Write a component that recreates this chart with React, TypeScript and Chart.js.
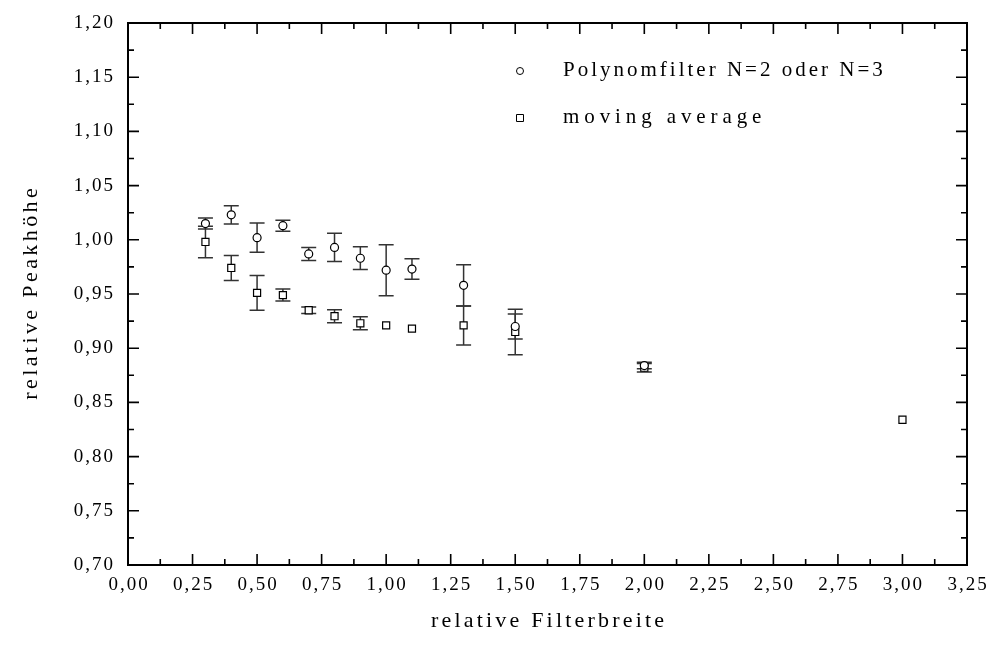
import React, { useEffect, useRef } from "react";
import { Chart, registerables } from "chart.js";

Chart.register(...registerables);

// Polynomial smoothing filter (N=2 or N=3)
const polyWidths = [0.3, 0.4, 0.5, 0.6, 0.7, 0.8, 0.9, 1.0, 1.1, 1.3, 1.5, 2.0];
const polyPeak = [1.015, 1.023, 1.002, 1.013, 0.987, 0.993, 0.983, 0.972, 0.973, 0.958, 0.92, 0.884];
const polyErr = [0.005, 0.0085, 0.0135, 0.005, 0.006, 0.013, 0.0105, 0.0235, 0.0095, 0.019, 0.0115, 0.003];

// Moving average filter
const maWidths = [0.3, 0.4, 0.5, 0.6, 0.7, 0.8, 0.9, 1.0, 1.1, 1.3, 1.5, 2.0, 3.0];
const maPeak = [0.998, 0.974, 0.951, 0.949, 0.935, 0.9295, 0.923, 0.921, 0.918, 0.921, 0.915, 0.882, 0.834];
const maErr = [0.0145, 0.0115, 0.016, 0.0055, 0.003, 0.006, 0.006, 0, 0, 0.018, 0.021, 0.004, 0];

const seriesLabels = ["Polynomfilter N=2 oder N=3", "moving average"];
const seriesShapes = ["circle", "rect"];
const xTitle = "relative Filterbreite";
const yTitle = "relative Peakhöhe";
const xRange = [0, 3.25];
const yRange = [0.7, 1.2];
const xStep = 0.25;
const yStep = 0.05;

const FONT = '"Liberation Serif", "Times New Roman", serif';
const fmt = (v: number) => v.toFixed(2).replace(".", ",");

const errorBars = {
  id: "errorBars",
  beforeDatasetsDraw(chart: any) {
    const { ctx } = chart;
    const xs = chart.scales.x;
    const ys = chart.scales.y;
    ctx.save();
    ctx.strokeStyle = "#333";
    ctx.lineWidth = 1.5;
    chart.data.datasets.forEach((ds: any) => {
      ds.data.forEach((p: any, i: number) => {
        const e = ds.errors[i];
        if (!e) return;
        const px = xs.getPixelForValue(p.x);
        const y1 = ys.getPixelForValue(p.y + e);
        const y2 = ys.getPixelForValue(p.y - e);
        ctx.beginPath();
        ctx.moveTo(px, y1);
        ctx.lineTo(px, y2);
        ctx.moveTo(px - 7.5, y1);
        ctx.lineTo(px + 7.5, y1);
        ctx.moveTo(px - 7.5, y2);
        ctx.lineTo(px + 7.5, y2);
        ctx.stroke();
      });
    });
    ctx.restore();
  },
};

function spacedText(ctx: any, text: string, x: number, y: number, spacing: number, align: string) {
  ctx.letterSpacing = spacing + "px";
  const w = ctx.measureText(text).width - spacing;
  let sx = x;
  if (align === "center") sx = x - w / 2;
  else if (align === "right") sx = x - w;
  ctx.textAlign = "left";
  ctx.fillText(text, sx, y);
  ctx.letterSpacing = "0px";
}

const frameAndText = {
  id: "frameAndText",
  afterDraw(chart: any) {
    const { ctx, chartArea } = chart;
    const { left, right, top, bottom } = chartArea;
    const xs = chart.scales.x;
    const ys = chart.scales.y;
    ctx.save();
    ctx.strokeStyle = "#000";
    ctx.fillStyle = "#000";
    ctx.lineWidth = 2;
    ctx.strokeRect(left, top, right - left, bottom - top);

    // inward ticks on all four sides (major + minor)
    ctx.lineWidth = 1.6;
    const xMaj = xs.ticks.map((t: any) => t.value);
    const yMaj = ys.ticks.map((t: any) => t.value);
    ctx.beginPath();
    xMaj.forEach((v: number, i: number) => {
      const px = xs.getPixelForValue(v);
      ctx.moveTo(px, bottom);
      ctx.lineTo(px, bottom - 11);
      ctx.moveTo(px, top);
      ctx.lineTo(px, top + 11);
      if (i < xMaj.length - 1) {
        const pm = xs.getPixelForValue((v + xMaj[i + 1]) / 2);
        ctx.moveTo(pm, bottom);
        ctx.lineTo(pm, bottom - 6);
        ctx.moveTo(pm, top);
        ctx.lineTo(pm, top + 6);
      }
    });
    yMaj.forEach((v: number, i: number) => {
      const py = ys.getPixelForValue(v);
      ctx.moveTo(left, py);
      ctx.lineTo(left + 11, py);
      ctx.moveTo(right, py);
      ctx.lineTo(right - 11, py);
      if (i < yMaj.length - 1) {
        const pm = ys.getPixelForValue((v + yMaj[i + 1]) / 2);
        ctx.moveTo(left, pm);
        ctx.lineTo(left + 6, pm);
        ctx.moveTo(right, pm);
        ctx.lineTo(right - 6, pm);
      }
    });
    ctx.stroke();

    // tick labels
    ctx.font = `19px ${FONT}`;
    ctx.textBaseline = "middle";
    xMaj.forEach((v: number) => {
      spacedText(ctx, fmt(v), xs.getPixelForValue(v), bottom + 20, 2, "center");
    });
    yMaj.forEach((v: number) => {
      spacedText(ctx, fmt(v), left - 15, ys.getPixelForValue(v), 2, "right");
    });

    // axis titles
    ctx.font = `22px ${FONT}`;
    spacedText(ctx, xTitle, (left + right) / 2, 621, 3.2, "center");
    ctx.save();
    ctx.translate(31, (top + bottom) / 2);
    ctx.rotate(-Math.PI / 2);
    spacedText(ctx, yTitle, 0, 0, 3.4, "center");
    ctx.restore();

    // legend
    const rows = [71, 118];
    const rowSpacing = [3, 4.9];
    chart.data.datasets.forEach((ds: any, i: number) => {
      const cy = rows[i];
      ctx.lineWidth = 1;
      ctx.strokeStyle = "#000";
      ctx.fillStyle = "#fff";
      ctx.beginPath();
      if (seriesShapes[i] === "circle") ctx.arc(520, cy, 3.5, 0, Math.PI * 2);
      else ctx.rect(516.5, cy - 3.5, 7, 7);
      ctx.fill();
      ctx.stroke();
      ctx.fillStyle = "#000";
      ctx.font = `21px ${FONT}`;
      spacedText(ctx, ds.label, 563, cy - 1, rowSpacing[i], "left");
    });
    ctx.restore();
  },
};

export default function App() {
  const ref = useRef<HTMLCanvasElement | null>(null);

  useEffect(() => {
    if (!ref.current) return;
    const chart = new Chart(ref.current, {
      type: "scatter",
      data: {
        datasets: [
          {
            label: seriesLabels[0],
            data: polyWidths.map((x, i) => ({ x, y: polyPeak[i] })),
            errors: polyErr,
            pointStyle: "circle",
            pointRadius: 4,
            backgroundColor: "#fff",
            borderColor: "#000",
            borderWidth: 1.2,
          } as any,
          {
            label: seriesLabels[1],
            data: maWidths.map((x, i) => ({ x, y: maPeak[i] })),
            errors: maErr,
            pointStyle: "rect",
            pointRadius: 5,
            backgroundColor: "#fff",
            borderColor: "#000",
            borderWidth: 1.2,
          } as any,
        ],
      },
      options: {
        animation: false,
        responsive: false,
        devicePixelRatio: 1,
        layout: { padding: { top: 23, right: 25, left: 0, bottom: 0 } },
        plugins: { legend: { display: false }, tooltip: { enabled: false } },
        scales: {
          x: {
            type: "linear",
            min: xRange[0],
            max: xRange[1],
            ticks: { stepSize: xStep, display: false },
            grid: { display: false, drawTicks: false },
            border: { display: false },
            afterFit: (s: any) => {
              s.height = 90;
            },
          },
          y: {
            type: "linear",
            min: yRange[0],
            max: yRange[1],
            ticks: { stepSize: yStep, display: false },
            grid: { display: false, drawTicks: false },
            border: { display: false },
            afterFit: (s: any) => {
              s.width = 128;
            },
          },
        },
      } as any,
      plugins: [errorBars, frameAndText],
    });
    return () => chart.destroy();
  }, []);

  return (
    <div style={{ position: "fixed", left: 0, top: 0, width: 992, height: 655, background: "#fff" }}>
      <canvas ref={ref} width={992} height={655} />
    </div>
  );
}
